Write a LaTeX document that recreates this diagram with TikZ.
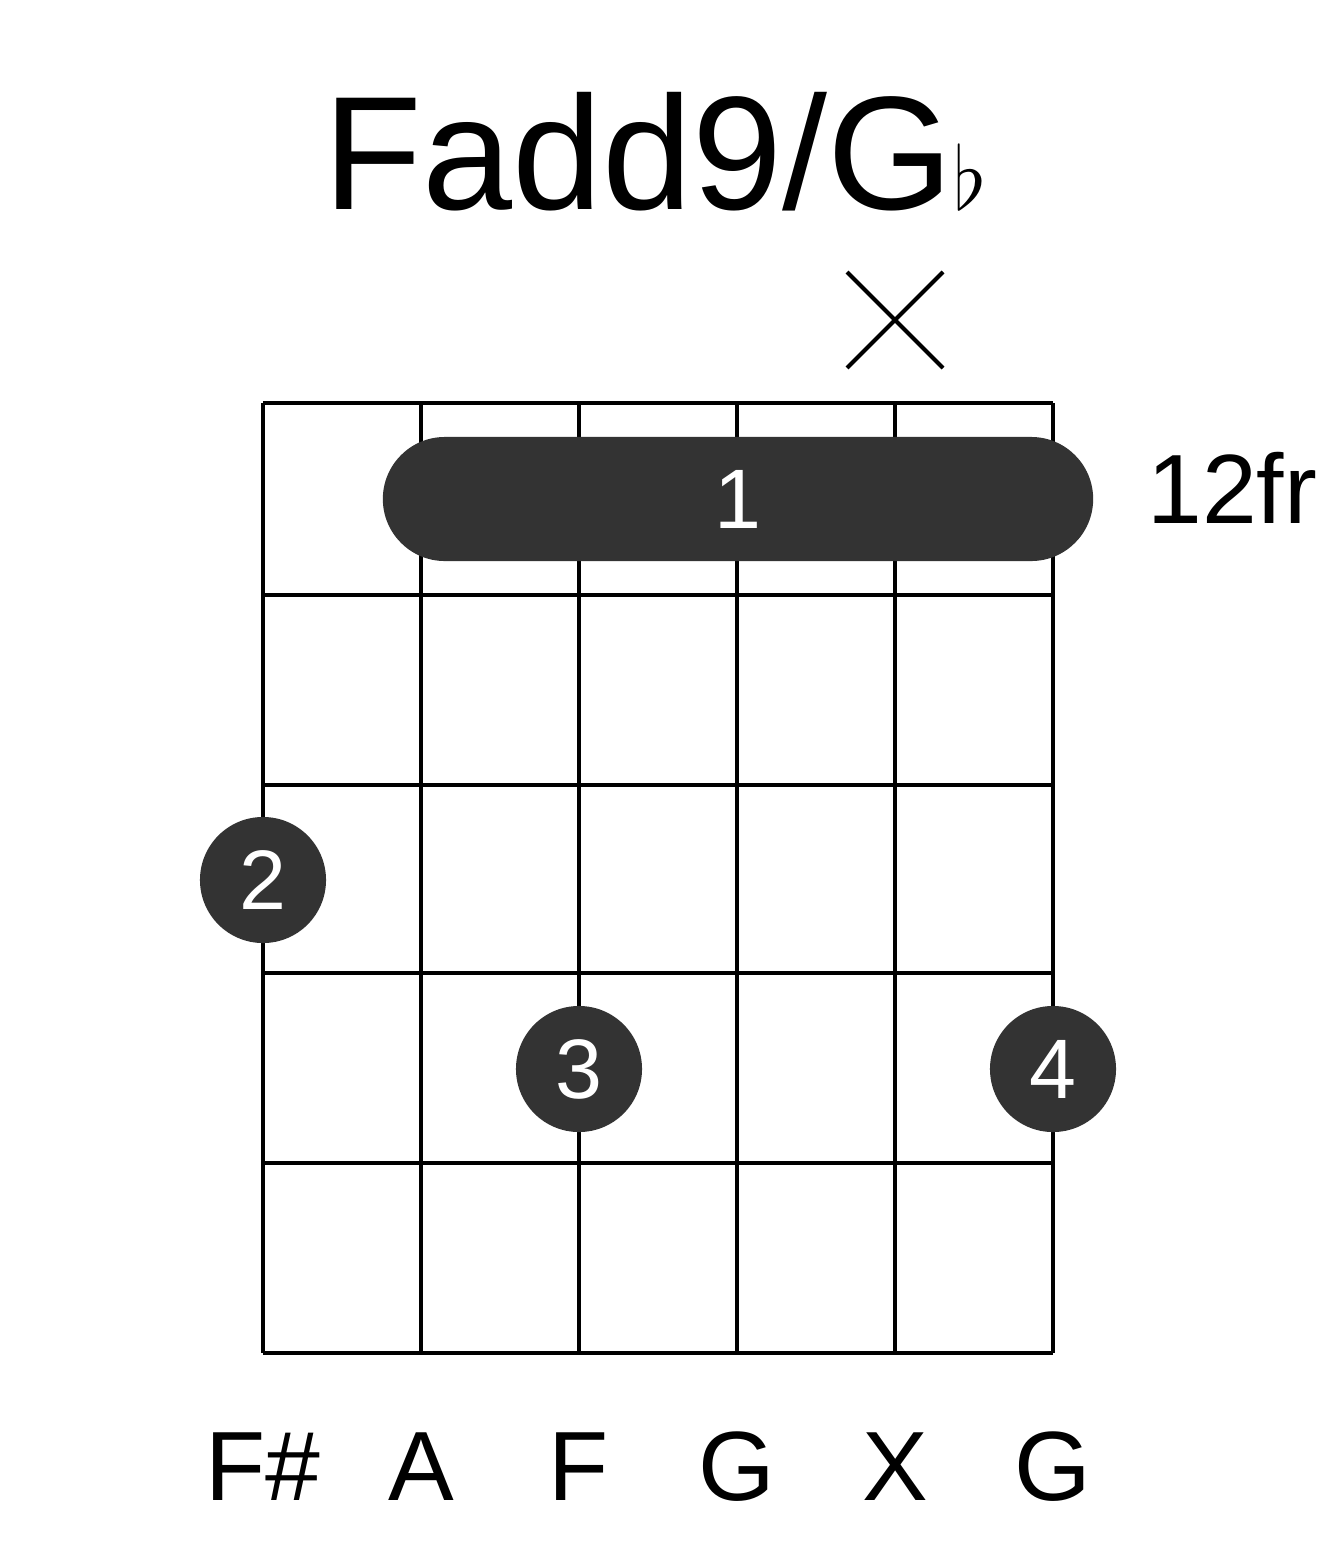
\documentclass[tikz,border=0pt]{standalone}
\usepackage{fontspec}
\setmainfont{Liberation Sans}
\tikzset{
  gridline/.style={line width=4pt*0.2845},
  finger/.style={circle,fill=black!80,text=white,minimum size=126*0.2845pt,inner sep=0pt,font=\fontsize{24}{24}\selectfont},
  notename/.style={font=\fontsize{28}{28}\selectfont}
}
\begin{document}
\begin{tikzpicture}[x=0.01cm,y=-0.01cm]
  \useasboundingbox (0,0) rectangle (1317,1551);
  % title
  \node (title) at (655,152) {\fontsize{46}{46}\selectfont Fadd9/G$\flat$};
  % grid
  \foreach \s in {263,421,579,737,895,1053}
    \draw[gridline] (\s,403) -- (\s,1353);
  \foreach \f in {403,595,785,973,1163,1353}
    \draw[gridline] (263,\f) -- (1053,\f);
  % muted string
  \coordinate (xa) at (847,272);
  \coordinate (xb) at (943,368);
  \coordinate (xc) at (847,368);
  \coordinate (xd) at (943,272);
  \draw[line width=4pt*0.2845] (xa) -- (xb) (xc) -- (xd);
  % barre
  \node[rounded corners=62*0.2845pt,fill=black!80,text=white,minimum width=710*0.2845pt,minimum height=124*0.2845pt,inner sep=0pt,font=\fontsize{24}{24}\selectfont] (barre) at (738,499) {1};
  \node[anchor=west,font=\fontsize{28}{28}\selectfont] (fret) at (1135,488) {12fr};
  % fingers
  \node[finger] (f2) at (263,880) {2};
  \node[finger] (f3) at (579,1069) {3};
  \node[finger] (f4) at (1053,1069) {4};
  % note names
  \node[notename] (n1) at (263,1467) {F\#};
  \node[notename] (n2) at (421,1467) {A};
  \node[notename] (n3) at (579,1467) {F};
  \node[notename] (n4) at (737,1467) {G};
  \node[notename] (n5) at (895,1467) {X};
  \node[notename] (n6) at (1053,1467) {G};
\end{tikzpicture}
\end{document}
